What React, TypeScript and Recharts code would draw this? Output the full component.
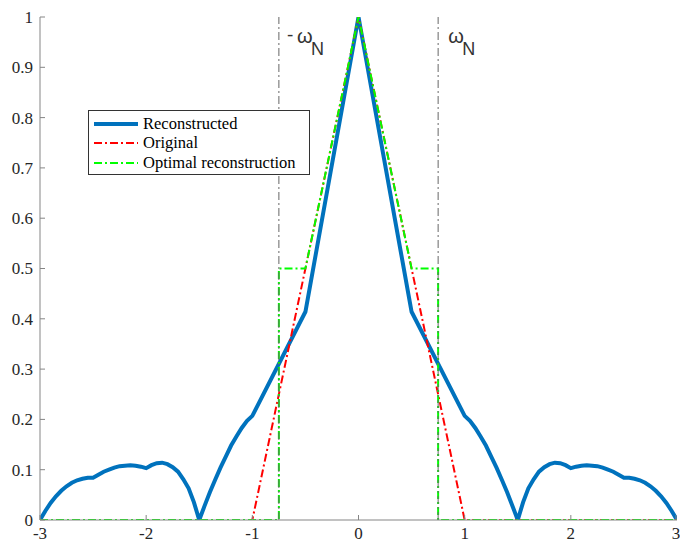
import { LineChart, Line, XAxis, YAxis, ReferenceLine } from "recharts";

// blue curve
const reconX = [
  -3, -2.95, -2.9, -2.85, -2.8, -2.75, -2.7, -2.65, -2.6, -2.55, -2.5, -2.45, -2.4, -2.35, -2.3, -2.25, -2.2,
  -2.15, -2.1, -2.05, -2, -1.95, -1.9, -1.85, -1.8, -1.75, -1.7, -1.65, -1.6, -1.55, -1.5, -1.45, -1.4, -1.35,
  -1.3, -1.25, -1.2, -1.15, -1.1, -1.05, -1, -0.5, 0, 0.5, 1, 1.05, 1.1, 1.15, 1.2, 1.25, 1.3, 1.35, 1.4, 1.45,
  1.5, 1.55, 1.6, 1.65, 1.7, 1.75, 1.8, 1.85, 1.9, 1.95, 2, 2.05, 2.1, 2.15, 2.2, 2.25, 2.3, 2.35, 2.4, 2.45,
  2.5, 2.55, 2.6, 2.65, 2.7, 2.75, 2.8, 2.85, 2.9, 2.95, 3,
];
const reconY = [
  0, 0.018, 0.034, 0.047, 0.058, 0.067, 0.074, 0.079, 0.082, 0.084, 0.084, 0.09, 0.096, 0.1, 0.104, 0.107, 0.108,
  0.109, 0.108, 0.106, 0.103, 0.109, 0.113, 0.114, 0.111, 0.105, 0.096, 0.081, 0.063, 0.035, 0, 0.028, 0.055, 0.08,
  0.104, 0.126, 0.148, 0.166, 0.183, 0.197, 0.207, 0.414, 1, 0.414, 0.207, 0.197, 0.183, 0.166, 0.148, 0.126,
  0.104, 0.08, 0.055, 0.028, 0, 0.035, 0.063, 0.081, 0.096, 0.105, 0.111, 0.114, 0.113, 0.109, 0.103, 0.106,
  0.108, 0.109, 0.108, 0.107, 0.104, 0.1, 0.096, 0.09, 0.084, 0.084, 0.082, 0.079, 0.074, 0.067, 0.058, 0.047,
  0.034, 0.018, 0,
];

const origX = [-3, -1, 0, 1, 3];
const origY = [0, 0, 1, 0, 0];

const optX = [-3, -0.75, -0.75, -0.5, 0, 0.5, 0.75, 0.75, 3];
const optY = [0, 0, 0.5, 0.5, 1, 0.5, 0.5, 0, 0];

const xTicks = [-3, -2, -1, 0, 1, 2, 3];
const yTicks = [0, 0.1, 0.2, 0.3, 0.4, 0.5, 0.6, 0.7, 0.8, 0.9, 1];
const nyquist = [-0.75, 0.75];

const recon = reconX.map((x, i) => ({ x, y: reconY[i] }));
const orig = origX.map((x, i) => ({ x, y: origY[i] }));
const opt = optX.map((x, i) => ({ x, y: optY[i] }));

const serif = "Liberation Serif, DejaVu Serif, serif";
const sans = "Liberation Sans, Arial, sans-serif";
const axisColor = "#858585";
const dashDot = "8 3 2 3";

const XTick = (props: any) => {
  const { x, y, payload } = props;
  const y0 = y - 8;
  return (
    <g>
      <line x1={x} x2={x} y1={y0} y2={y0 - 5} stroke={axisColor} />
      <text x={x} y={y} dy="0.66em" textAnchor="middle" style={{ fontFamily: serif, fontSize: 17 }} fill="#262626">
        {payload.value}
      </text>
    </g>
  );
};

const YTick = (props: any) => {
  const { x, y, payload } = props;
  const x0 = x + 7;
  return (
    <g>
      <line x1={x0} x2={x0 + 5} y1={y} y2={y} stroke={axisColor} />
      <text x={x} y={y} dy="0.35em" textAnchor="end" style={{ fontFamily: serif, fontSize: 17 }} fill="#262626">
        {payload.value}
      </text>
    </g>
  );
};

const NyqLabel = (neg: boolean) => (props: any) => {
  const vx = props.viewBox.x;
  const off = neg ? 18 : 10;
  return (
    <g style={{ fontFamily: sans }} fill="#333">
      {neg && (
        <text x={vx + 8} y={41} fontSize={19}>
          -
        </text>
      )}
      <text x={vx + off} y={43} fontSize={20}>
        ω
      </text>
      <text x={vx + off + 14} y={55} fontSize={18}>
        N
      </text>
    </g>
  );
};

const legendRows = [
  { name: "Reconstructed", color: "#0072BD", width: 4, dash: undefined },
  { name: "Original", color: "#ff0000", width: 2, dash: dashDot },
  { name: "Optimal reconstruction", color: "#00ff00", width: 2, dash: dashDot },
];

const LegendBox = () => (
  <div
    style={{
      position: "absolute",
      left: 88,
      top: 110,
      width: 222,
      height: 65,
      border: "1px solid #333",
      background: "#fff",
      boxSizing: "border-box",
      paddingTop: 3,
    }}
  >
    {legendRows.map((r) => (
      <div key={r.name} style={{ display: "flex", alignItems: "center", height: 19.5 }}>
        <svg width={54} height={10} style={{ flexShrink: 0 }}>
          <line x1={5} x2={49} y1={5} y2={5} stroke={r.color} strokeWidth={r.width} strokeDasharray={r.dash} />
        </svg>
        <span style={{ fontFamily: serif, fontSize: 16.5, color: "#000", whiteSpace: "nowrap" }}>{r.name}</span>
      </div>
    ))}
  </div>
);

export default function App() {
  return (
    <div style={{ position: "absolute", left: 0, top: 0, width: 680, height: 542, background: "#fff" }}>
      <LineChart width={680} height={542} margin={{ top: 17, right: 3, bottom: 0, left: 0 }}>
        <XAxis
          type="number"
          dataKey="x"
          domain={[-3, 3]}
          ticks={xTicks}
          allowDataOverflow
          height={22}
          tickSize={0}
          tickMargin={8}
          stroke={axisColor}
          tick={<XTick />}
        />
        <YAxis
          type="number"
          domain={[0, 1]}
          ticks={yTicks}
          allowDataOverflow
          width={40}
          tickSize={0}
          tickMargin={7}
          stroke={axisColor}
          tick={<YTick />}
        />
        <Line
          data={recon}
          dataKey="y"
          name="Reconstructed"
          stroke="#0072BD"
          strokeWidth={4}
          dot={false}
          type="linear"
          isAnimationActive={false}
        />
        <Line
          data={orig}
          dataKey="y"
          name="Original"
          stroke="#ff0000"
          strokeWidth={2}
          strokeDasharray={dashDot}
          dot={false}
          type="linear"
          isAnimationActive={false}
        />
        <Line
          data={opt}
          dataKey="y"
          name="Optimal reconstruction"
          stroke="#00ff00"
          strokeWidth={2}
          strokeDasharray={dashDot}
          dot={false}
          type="linear"
          isAnimationActive={false}
        />
        {nyquist.map((n) => (
          <ReferenceLine
            key={n}
            x={n}
            stroke="#666"
            strokeWidth={1}
            strokeDasharray={dashDot}
            label={NyqLabel(n < 0)}
          />
        ))}
      </LineChart>
      <LegendBox />
    </div>
  );
}
